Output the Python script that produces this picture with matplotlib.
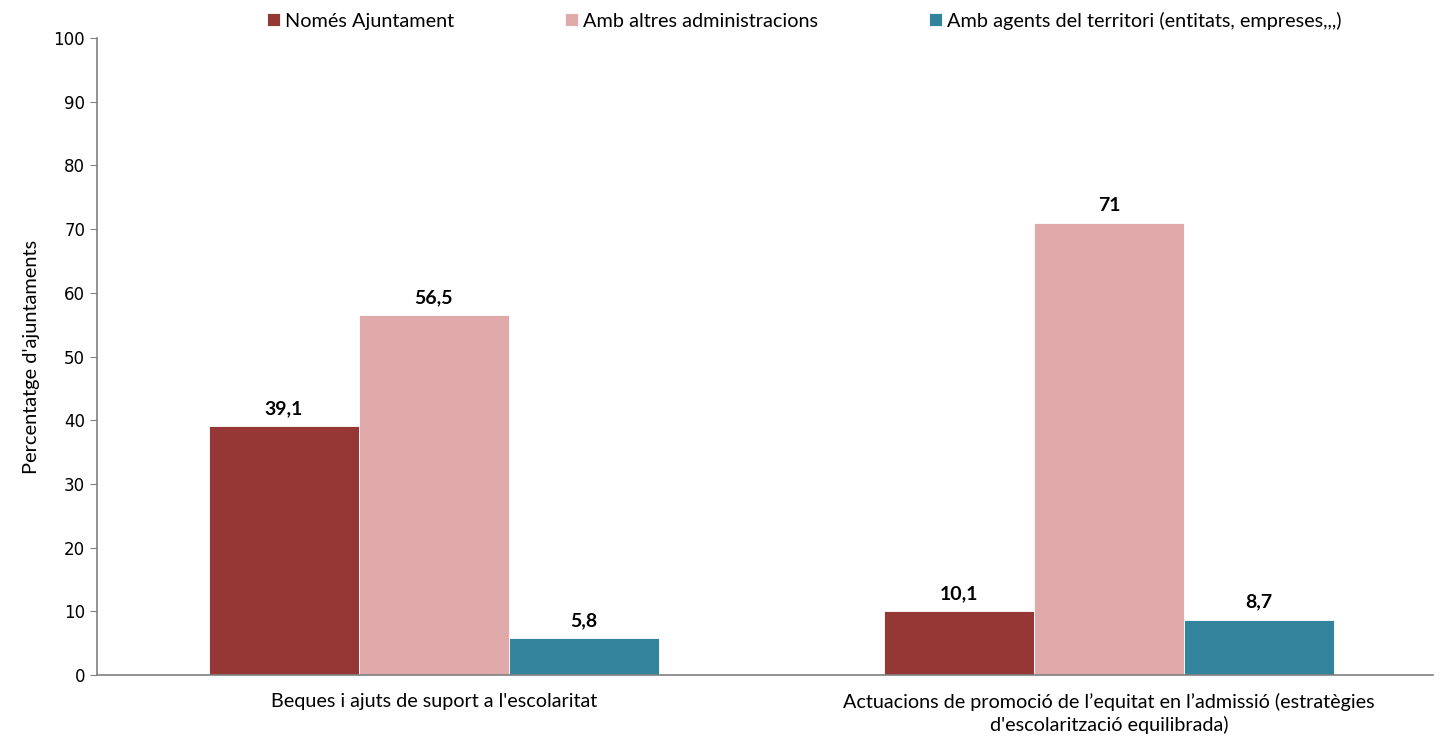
import numpy as np
import matplotlib.pyplot as plt

plt.rcParams['font.family'] = ['Lato', 'DejaVu Sans']

categories = ["Beques i ajuts de suport a l'escolaritat",
              "Actuacions de promoció de l\u2019equitat en l\u2019admissió (estratègies\nd'escolarització equilibrada)"]
series = ["Només Ajuntament", "Amb altres administracions",
          "Amb agents del territori (entitats, empreses,,,)"]
nomes = [39.1, 10.1]
altres = [56.5, 71]
agents = [5.8, 8.7]
labels = [["39,1", "10,1"], ["56,5", "71"], ["5,8", "8,7"]]

colors = ['#953735', '#E0A9A9', '#31849B']
values = [nomes, altres, agents]

fig = plt.figure(figsize=(14.41, 7.37), dpi=100)
ax = fig.add_axes([0.0673, 0.0841, 0.9271, 0.8643])

x = np.arange(len(categories))
w = 0.222
for i, (vals, name) in enumerate(zip(values, series)):
    bars = ax.bar(x + (i - 1) * w, vals, w, color=colors[i], label=name,
                  edgecolor='white', linewidth=0.6)
    for b, lab in zip(bars, labels[i]):
        ax.text(b.get_x() + b.get_width() / 2, b.get_height() + 1.4, lab,
                ha='center', va='bottom', fontsize=14, fontweight='bold')

ax.set_xlim(-0.499, 1.48)
ax.set_ylim(0, 100)
ax.set_yticks(range(0, 101, 10))
ax.tick_params(axis='y', labelsize=12, colors='#808080', labelcolor='black',
               length=5, direction='out')
ax.set_yticklabels([str(v) for v in range(0, 101, 10)], family='DejaVu Sans')
ax.set_xticks(x)
ax.set_xticklabels(categories, fontsize=14.2, linespacing=1.3)
ax.tick_params(axis='x', length=0, pad=13)
for s in ['top', 'right']:
    ax.spines[s].set_visible(False)
for s in ['left', 'bottom']:
    ax.spines[s].set_color('#808080')
    ax.spines[s].set_linewidth(1.2)
ax.set_ylabel("Percentatge d'ajuntaments", fontsize=14.4, labelpad=10)

fig.legend(loc='center', bbox_to_anchor=(0.558, 0.972), ncol=3,
           frameon=False, fontsize=14.3, handlelength=0.65, handleheight=0.65,
           handletextpad=0.25, columnspacing=5.6)

fig.savefig('out.png', dpi=100)
